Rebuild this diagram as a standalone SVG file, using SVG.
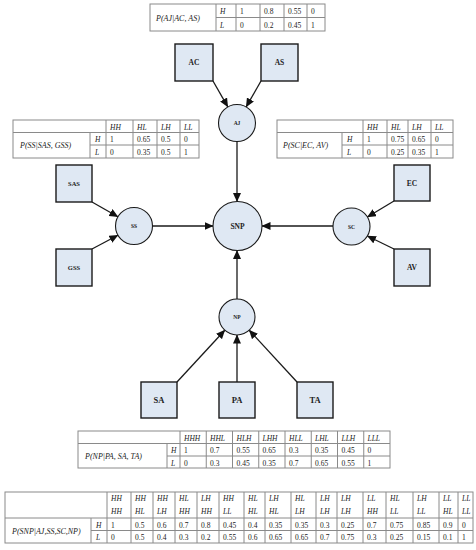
<svg xmlns="http://www.w3.org/2000/svg" width="476" height="550" viewBox="0 0 476 550">
<style>
.bg{fill:#ffffff}
.box{fill:#dfe8f3;stroke:#1a1a1a;stroke-width:1.4}
.circ{fill:#dfe8f3;stroke:#1a1a1a;stroke-width:1.1}
.nl{font-family:"Liberation Serif",serif;font-weight:bold;fill:#222;text-anchor:middle}
.edge{stroke:#1a1a1a;stroke-width:1.3;fill:none}
.edgev{stroke:#444;stroke-width:1.6;fill:none}
.tb{fill:none;stroke:#8a8a8a;stroke-width:1}
.tl{stroke:#8a8a8a;stroke-width:1}
.t{font-family:"Liberation Serif",serif;font-size:7.5px;fill:#222}
.ti{font-family:"Liberation Serif",serif;font-size:7.5px;font-style:italic;fill:#222}
.lab{font-family:"Liberation Serif",serif;font-size:8px;font-style:italic;fill:#222}
</style>
<defs>
<marker id="arr" markerUnits="userSpaceOnUse" markerWidth="9" markerHeight="8" refX="8.5" refY="4" orient="auto">
<path d="M0,0 L9,4 L0,8 Z" fill="#111"/>
</marker>
</defs>
<rect class="bg" x="0" y="0" width="476" height="550"/>

<g id="connectors">
<line class="edge" x1="213" y1="81" x2="227.8" y2="106.9" marker-end="url(#arr)"/>
<line class="edge" x1="261" y1="81" x2="246.2" y2="106.9" marker-end="url(#arr)"/>
<line class="edge" x1="92" y1="202" x2="117.9" y2="216.8" marker-end="url(#arr)"/>
<line class="edge" x1="92" y1="249" x2="117.9" y2="235.2" marker-end="url(#arr)"/>
<line class="edge" x1="394" y1="201" x2="367.4" y2="217" marker-end="url(#arr)"/>
<line class="edge" x1="394" y1="249" x2="367.4" y2="236" marker-end="url(#arr)"/>
<line class="edge" x1="177" y1="382" x2="224.8" y2="330.2" marker-end="url(#arr)"/>
<line class="edgev" x1="237" y1="382" x2="237" y2="335" marker-end="url(#arr)"/>
<line class="edge" x1="297" y1="382" x2="249.2" y2="330.2" marker-end="url(#arr)"/>
<line class="edgev" x1="237" y1="141.5" x2="237" y2="201.5" marker-end="url(#arr)"/>
<line class="edge" x1="152.5" y1="226" x2="213" y2="226" marker-end="url(#arr)"/>
<line class="edge" x1="333" y1="226" x2="262" y2="226" marker-end="url(#arr)"/>
<line class="edgev" x1="237" y1="299" x2="237" y2="250.5" marker-end="url(#arr)"/>
</g>

<g id="AC"><rect class="box" x="175" y="44" width="38" height="37"/><text class="nl" x="194" y="65" font-size="7.5">AC</text></g>
<g id="AS"><rect class="box" x="261" y="44" width="37" height="37"/><text class="nl" x="279.5" y="65" font-size="7.5">AS</text></g>
<g id="AJ"><circle class="circ" cx="237" cy="123" r="18.5"/><text class="nl" x="237" y="125" font-size="5.5">AJ</text></g>
<g id="SAS"><rect class="box" x="56" y="165" width="36" height="37"/><text class="nl" x="74" y="186" font-size="6.5">SAS</text></g>
<g id="GSS"><rect class="box" x="56" y="249" width="36" height="37"/><text class="nl" x="74" y="270" font-size="6.5">GSS</text></g>
<g id="SS"><circle class="circ" cx="134" cy="226" r="18.5"/><text class="nl" x="134" y="228" font-size="5.5">SS</text></g>
<g id="SNP"><circle class="circ" cx="237.5" cy="226" r="24.5"/><text class="nl" x="237.5" y="228.5" font-size="7.5" font-weight="normal">SNP</text></g>
<g id="SC"><circle class="circ" cx="351.5" cy="226.5" r="18.5"/><text class="nl" x="351.5" y="228.5" font-size="5.5">SC</text></g>
<g id="EC"><rect class="box" x="394" y="165" width="36" height="36"/><text class="nl" x="412" y="186" font-size="7.5">EC</text></g>
<g id="AV"><rect class="box" x="394" y="249" width="36" height="37"/><text class="nl" x="412" y="270" font-size="7.5">AV</text></g>
<g id="NP"><circle class="circ" cx="237" cy="317" r="18"/><text class="nl" x="237" y="319" font-size="5.5">NP</text></g>
<g id="SA"><rect class="box" x="141" y="382" width="36" height="36"/><text class="nl" x="159" y="403" font-size="8.5">SA</text></g>
<g id="PA"><rect class="box" x="219" y="382" width="36" height="36"/><text class="nl" x="237" y="403" font-size="8.5">PA</text></g>
<g id="TA"><rect class="box" x="297" y="382" width="36" height="36"/><text class="nl" x="315" y="403" font-size="8.5">TA</text></g>

<g id="table-AJ">
<rect class="tb" x="150" y="4" width="175" height="27"/>
<line class="tl" x1="216" y1="17.5" x2="325" y2="17.5"/>
<line class="tl" x1="216" y1="4" x2="216" y2="31"/>
<line class="tl" x1="236" y1="4" x2="236" y2="31"/>
<line class="tl" x1="260" y1="4" x2="260" y2="31"/>
<line class="tl" x1="284" y1="4" x2="284" y2="31"/>
<line class="tl" x1="307" y1="4" x2="307" y2="31"/>
<text class="lab" x="156" y="20.5">P(AJ|AC, AS)</text>
<text class="ti" x="220" y="14">H</text><text class="ti" x="220" y="27.5">L</text>
<text class="t" x="240" y="14">1</text><text class="t" x="264" y="14">0.8</text><text class="t" x="288" y="14">0.55</text><text class="t" x="311" y="14">0</text>
<text class="t" x="240" y="27.5">0</text><text class="t" x="264" y="27.5">0.2</text><text class="t" x="288" y="27.5">0.45</text><text class="t" x="311" y="27.5">1</text>
</g>

<g id="table-SS">
<rect class="tb" x="13" y="120" width="186" height="38"/>
<line class="tl" x1="13" y1="132.5" x2="199" y2="132.5"/>
<line class="tl" x1="90" y1="145" x2="199" y2="145"/>
<line class="tl" x1="90" y1="132.5" x2="90" y2="158"/>
<line class="tl" x1="106" y1="120" x2="106" y2="158"/>
<line class="tl" x1="133" y1="120" x2="133" y2="158"/>
<line class="tl" x1="157" y1="120" x2="157" y2="158"/>
<line class="tl" x1="180" y1="120" x2="180" y2="158"/>
<text class="ti" x="110" y="129.5">HH</text><text class="ti" x="137" y="129.5">HL</text><text class="ti" x="161" y="129.5">LH</text><text class="ti" x="184" y="129.5">LL</text>
<text class="lab" x="20" y="148">P(SS|SAS, GSS)</text>
<text class="ti" x="95" y="142">H</text><text class="ti" x="95" y="155">L</text>
<text class="t" x="110" y="142">1</text><text class="t" x="137" y="142">0.65</text><text class="t" x="161" y="142">0.5</text><text class="t" x="184" y="142">0</text>
<text class="t" x="110" y="155">0</text><text class="t" x="137" y="155">0.35</text><text class="t" x="161" y="155">0.5</text><text class="t" x="184" y="155">1</text>
</g>

<g id="table-SC">
<rect class="tb" x="277" y="120" width="176" height="38"/>
<line class="tl" x1="277" y1="132.5" x2="453" y2="132.5"/>
<line class="tl" x1="342" y1="145" x2="453" y2="145"/>
<line class="tl" x1="342" y1="132.5" x2="342" y2="158"/>
<line class="tl" x1="363" y1="120" x2="363" y2="158"/>
<line class="tl" x1="387" y1="120" x2="387" y2="158"/>
<line class="tl" x1="408" y1="120" x2="408" y2="158"/>
<line class="tl" x1="431" y1="120" x2="431" y2="158"/>
<text class="ti" x="367" y="129.5">HH</text><text class="ti" x="391" y="129.5">HL</text><text class="ti" x="412" y="129.5">LH</text><text class="ti" x="435" y="129.5">LL</text>
<text class="lab" x="283" y="148">P(SC|EC, AV)</text>
<text class="ti" x="347" y="142">H</text><text class="ti" x="347" y="155">L</text>
<text class="t" x="367" y="142">1</text><text class="t" x="391" y="142">0.75</text><text class="t" x="412" y="142">0.65</text><text class="t" x="435" y="142">0</text>
<text class="t" x="367" y="155">0</text><text class="t" x="391" y="155">0.25</text><text class="t" x="412" y="155">0.35</text><text class="t" x="435" y="155">1</text>
</g>

<g id="table-NP">
<rect class="tb" x="78" y="431" width="312" height="37"/>
<line class="tl" x1="78" y1="443.5" x2="390" y2="443.5"/>
<line class="tl" x1="167" y1="456" x2="390" y2="456"/>
<line class="tl" x1="167" y1="443.5" x2="167" y2="468"/>
<line class="tl" x1="180" y1="431" x2="180" y2="468"/>
<line class="tl" x1="206.25" y1="431" x2="206.25" y2="468"/>
<line class="tl" x1="232.5" y1="431" x2="232.5" y2="468"/>
<line class="tl" x1="258.75" y1="431" x2="258.75" y2="468"/>
<line class="tl" x1="285" y1="431" x2="285" y2="468"/>
<line class="tl" x1="311.25" y1="431" x2="311.25" y2="468"/>
<line class="tl" x1="337.5" y1="431" x2="337.5" y2="468"/>
<line class="tl" x1="363.75" y1="431" x2="363.75" y2="468"/>
<text class="ti" x="184" y="440.5">HHH</text><text class="ti" x="210" y="440.5">HHL</text><text class="ti" x="236.5" y="440.5">HLH</text><text class="ti" x="262.5" y="440.5">LHH</text><text class="ti" x="289" y="440.5">HLL</text><text class="ti" x="315" y="440.5">LHL</text><text class="ti" x="341.5" y="440.5">LLH</text><text class="ti" x="367.5" y="440.5">LLL</text>
<text class="lab" x="85" y="459">P(NP|PA, SA, TA)</text>
<text class="ti" x="171" y="453">H</text><text class="ti" x="171" y="465.5">L</text>
<text class="t" x="184" y="453">1</text><text class="t" x="210" y="453">0.7</text><text class="t" x="236.5" y="453">0.55</text><text class="t" x="262.5" y="453">0.65</text><text class="t" x="289" y="453">0.3</text><text class="t" x="315" y="453">0.35</text><text class="t" x="341.5" y="453">0.45</text><text class="t" x="367.5" y="453">0</text>
<text class="t" x="184" y="465.5">0</text><text class="t" x="210" y="465.5">0.3</text><text class="t" x="236.5" y="465.5">0.45</text><text class="t" x="262.5" y="465.5">0.35</text><text class="t" x="289" y="465.5">0.7</text><text class="t" x="315" y="465.5">0.65</text><text class="t" x="341.5" y="465.5">0.55</text><text class="t" x="367.5" y="465.5">1</text>
</g>

<g id="table-SNP">
<rect class="tb" x="5" y="492" width="468" height="51"/>
<line class="tl" x1="5" y1="518" x2="473" y2="518"/>
<line class="tl" x1="91" y1="530.5" x2="473" y2="530.5"/>
<line class="tl" x1="91" y1="518" x2="91" y2="543"/>
<g class="tl">
<line x1="107" y1="492" x2="107" y2="543"/>
<line x1="131" y1="492" x2="131" y2="543"/>
<line x1="153" y1="492" x2="153" y2="543"/>
<line x1="175" y1="492" x2="175" y2="543"/>
<line x1="197" y1="492" x2="197" y2="543"/>
<line x1="219" y1="492" x2="219" y2="543"/>
<line x1="244" y1="492" x2="244" y2="543"/>
<line x1="265" y1="492" x2="265" y2="543"/>
<line x1="291" y1="492" x2="291" y2="543"/>
<line x1="316" y1="492" x2="316" y2="543"/>
<line x1="337" y1="492" x2="337" y2="543"/>
<line x1="363" y1="492" x2="363" y2="543"/>
<line x1="386" y1="492" x2="386" y2="543"/>
<line x1="413" y1="492" x2="413" y2="543"/>
<line x1="439" y1="492" x2="439" y2="543"/>
<line x1="458" y1="492" x2="458" y2="543"/>
</g>
<g class="ti">
<text x="111" y="501">HH</text><text x="111" y="513.5">HH</text>
<text x="135" y="501">HH</text><text x="135" y="513.5">HL</text>
<text x="157" y="501">HH</text><text x="157" y="513.5">LH</text>
<text x="179" y="501">HL</text><text x="179" y="513.5">HH</text>
<text x="201" y="501">LH</text><text x="201" y="513.5">HH</text>
<text x="223" y="501">HH</text><text x="223" y="513.5">LL</text>
<text x="248" y="501">HL</text><text x="248" y="513.5">HL</text>
<text x="269" y="501">LH</text><text x="269" y="513.5">HL</text>
<text x="295" y="501">HL</text><text x="295" y="513.5">LH</text>
<text x="320" y="501">LH</text><text x="320" y="513.5">LH</text>
<text x="341" y="501">LH</text><text x="341" y="513.5">LH</text>
<text x="367" y="501">LL</text><text x="367" y="513.5">HH</text>
<text x="390" y="501">HL</text><text x="390" y="513.5">LL</text>
<text x="417" y="501">LH</text><text x="417" y="513.5">LL</text>
<text x="443" y="501">LL</text><text x="443" y="513.5">HL</text>
<text x="462" y="501">LL</text><text x="462" y="513.5">LL</text>
</g>
<text class="lab" x="12" y="533.5">P(SNP|AJ,SS,SC,NP)</text>
<text class="ti" x="96" y="527.5">H</text><text class="ti" x="96" y="540">L</text>
<g class="t">
<text x="111" y="527.5">1</text><text x="135" y="527.5">0.5</text><text x="157" y="527.5">0.6</text><text x="179" y="527.5">0.7</text><text x="201" y="527.5">0.8</text><text x="223" y="527.5">0.45</text><text x="248" y="527.5">0.4</text><text x="269" y="527.5">0.35</text><text x="295" y="527.5">0.35</text><text x="320" y="527.5">0.3</text><text x="341" y="527.5">0.25</text><text x="367" y="527.5">0.7</text><text x="390" y="527.5">0.75</text><text x="417" y="527.5">0.85</text><text x="443" y="527.5">0.9</text><text x="462" y="527.5">0</text>
<text x="111" y="540">0</text><text x="135" y="540">0.5</text><text x="157" y="540">0.4</text><text x="179" y="540">0.3</text><text x="201" y="540">0.2</text><text x="223" y="540">0.55</text><text x="248" y="540">0.6</text><text x="269" y="540">0.65</text><text x="295" y="540">0.65</text><text x="320" y="540">0.7</text><text x="341" y="540">0.75</text><text x="367" y="540">0.3</text><text x="390" y="540">0.25</text><text x="417" y="540">0.15</text><text x="443" y="540">0.1</text><text x="462" y="540">1</text>
</g>
</g>
</svg>
